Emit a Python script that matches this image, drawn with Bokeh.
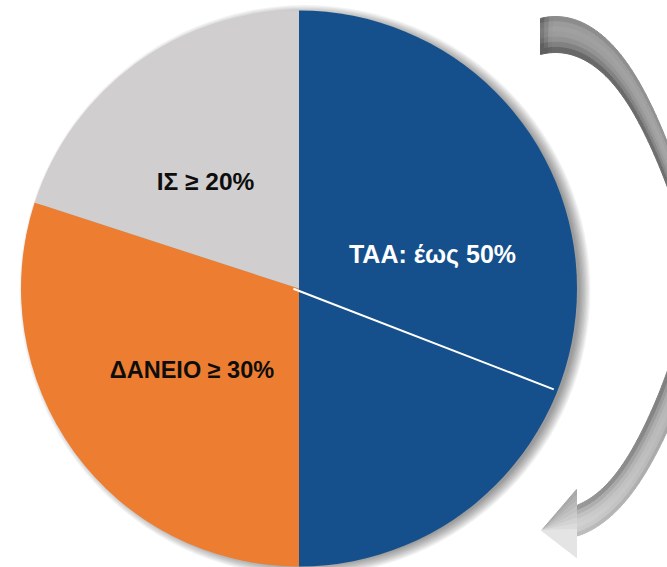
import numpy as np
from bokeh.plotting import figure
from bokeh.models import Range1d, ColumnDataSource
from bokeh.embed import file_html
from bokeh.resources import INLINE
from bokeh.core.properties import value

# ---------------- data ----------------
categories = ["TAA", "ΔΑΝΕΙΟ", "ΙΣ"]
shares = [50, 30, 20]
labels = ["TAA: έως 50%", "ΔΑΝΕΙΟ ≥ 30%", "ΙΣ ≥ 20%"]
divider_share = 31  # cumulative % (clockwise from top) of the white divider inside TAA

# ---------------- styles / layout ----------------
colors = ["#15508C", "#ED7D31", "#D0CECE"]
label_colors = ["#FFFFFF", "#0D0D0D", "#0D0D0D"]
label_sizes = ["25px", "23.5px", "24.5px"]
label_pos = [(432, -253), (191.5, -369), (205, -181)]

W, H = 667, 567
p = figure(width=W, height=H, x_range=Range1d(0, W), y_range=Range1d(-H, 0),
           output_backend="svg", toolbar_location=None, min_border=0,
           x_axis_location=None, y_axis_location=None)
p.grid.visible = False
p.outline_line_color = None
p.background_fill_color = "white"
p.border_fill_color = "white"

cx, cy, R = 298.5, -288.0, 278.0

# ---------------- curved arrow (decoration) ----------------
acx, acy = 555.0, -290.0
up_o, up_i = (128.0, 274.0), (116.0, 238.0)
lo_o, lo_i = (131.0, 249.0), (110.0, 219.0)
bulge = 17.0
tail_dx, end_dx = -15.0, 22.0


def ell_pt(theta, up, lo):
    rx, ry = up if theta >= 0 else lo
    return acx + rx * np.cos(theta) + bulge * np.cos(theta) ** 8, acy + ry * np.sin(theta)


th_o0 = np.arccos(tail_dx / up_o[0]); th_i0 = np.arccos(tail_dx / up_i[0])
th_o1 = -np.arccos(end_dx / lo_o[0]); th_i1 = -np.arccos(end_dx / lo_i[0])

nu, ns = 90, 7
us = np.linspace(0, 1, nu + 1)
ss = np.linspace(0, 1, ns + 1)
grid = []
for u in us:
    to = th_o0 + u * (th_o1 - th_o0)
    ti = th_i0 + u * (th_i1 - th_i0)
    xo, yo = ell_pt(to, up_o, lo_o)
    xi, yi = ell_pt(ti, up_i, lo_i)
    grid.append([(xo + s * (xi - xo), yo + s * (yi - yo)) for s in ss])

axs, ays, acol = [], [], []
for a in range(nu):
    for b in range(ns):
        p00, p01 = grid[a][b], grid[a][b + 1]
        p11, p10 = grid[a + 1][b + 1], grid[a + 1][b]
        axs.append([p00[0], p01[0], p11[0], p10[0]])
        ays.append([p00[1], p01[1], p11[1], p10[1]])
        u = (a + 0.5) / nu
        s = (b + 0.5) / ns
        L = 168 + 50 * u ** 2
        L -= 80 * s ** 3 + 40 * (1 - s) ** 5
        if u < 0.03:
            L -= 45 * (1 - u / 0.03)
        L = int(max(95, min(235, L)))
        acol.append("#%02x%02x%02x" % (L, L, L))

p.patches(xs=axs, ys=ays, fill_color=acol, line_color=acol, line_width=1)

# arrow head
tip = (541.0, -530.0)
wing_top = (576.0, -489.0)
wing_bot = (576.0, -557.0)
nh = 12
hxs, hys, hcol = [], [], []
for k in range(nh):
    v0, v1 = k / nh, (k + 1) / nh
    b0 = (wing_top[0] + v0 * (wing_bot[0] - wing_top[0]), wing_top[1] + v0 * (wing_bot[1] - wing_top[1]))
    b1 = (wing_top[0] + v1 * (wing_bot[0] - wing_top[0]), wing_top[1] + v1 * (wing_bot[1] - wing_top[1]))
    hxs.append([tip[0], b0[0], b1[0]])
    hys.append([tip[1], b0[1], b1[1]])
    vm = (v0 + v1) / 2
    L = int(165 + 63 * min(1, vm * 1.6))
    hcol.append("#%02x%02x%02x" % (L, L, L))
p.patches(xs=hxs, ys=hys, fill_color=hcol, line_color=hcol, line_width=1)

# ---------------- pie shadow ----------------
for i in range(9):
    p.circle(x=cx + 6, y=cy - 2, radius=R - 3 + i * 1.3, fill_color="black",
             fill_alpha=0.05, line_color=None)

# ---------------- pie ----------------
fr = np.array(shares, dtype=float) / sum(shares)
cum = np.concatenate([[0], np.cumsum(fr)])
src = ColumnDataSource(dict(
    cat=categories,
    start=np.pi / 2 - 2 * np.pi * cum[1:],
    end=np.pi / 2 - 2 * np.pi * cum[:-1],
    color=colors,
))
p.wedge(x=cx, y=cy, radius=R, start_angle="start", end_angle="end",
        fill_color="color", line_color=None, source=src)

# white divider inside the TAA slice
ang = np.pi / 2 - 2 * np.pi * divider_share / 100.0
p.segment(x0=[cx - 6 * np.cos(ang)], y0=[cy - 6 * np.sin(ang) - 2.5],
          x1=[cx + (R - 4) * np.cos(ang)], y1=[cy + (R - 4) * np.sin(ang)],
          line_color="white", line_width=2)

# ---------------- labels ----------------
lsrc = ColumnDataSource(dict(
    x=[q[0] for q in label_pos], y=[q[1] for q in label_pos],
    text=labels, color=label_colors, size=label_sizes,
))
p.text(x="x", y="y", text="text", text_color="color", text_font_size="size", source=lsrc,
       text_font=value("Liberation Sans"), text_font_style="bold",
       text_align="center", text_baseline="middle")

open("out.html", "w").write(file_html(p, INLINE))
